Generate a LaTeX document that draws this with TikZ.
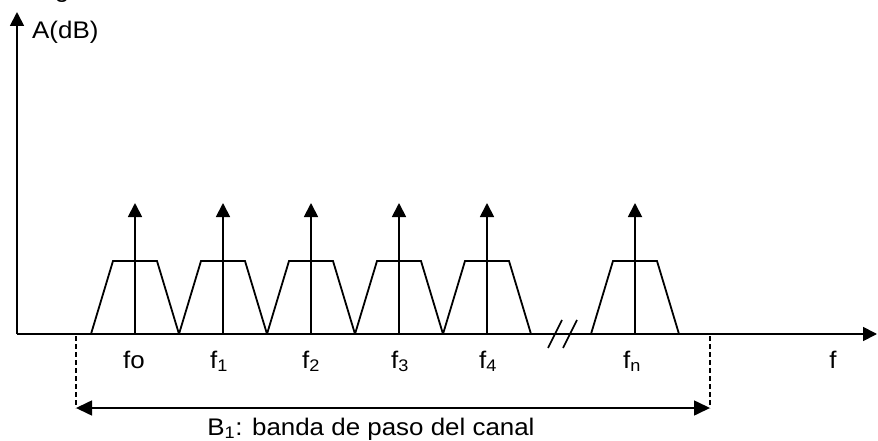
\documentclass[tikz,border=0pt]{standalone}
\usepackage{fontspec}
\setmainfont{Liberation Sans}[FakeStretch=1.08]
\usetikzlibrary{arrows.meta}
\begin{document}
\begin{tikzpicture}[x=1pt,y=-1pt,
  ln/.style={line width=1.8pt},
  tip/.style={-{Triangle[length=14pt,width=14pt]}},
  lbl/.style={font=\fontsize{24}{28}\selectfont, inner sep=0pt, anchor=base},
  dsh/.style={line width=1.2pt, dash pattern=on 5pt off 3pt}]
\useasboundingbox (0,0) rectangle (878,441);
% axes
\coordinate (O) at (17,334);
\coordinate (ytop) at (17,12);
\coordinate (xend) at (877,334);
\draw[ln,tip] (O) -- (ytop);
\draw[ln,tip] (O) -- (xend);
\node[lbl, anchor=base west] (ylab) at (32,39) {A(dB)};
\node[lbl] (xlab) at (833,368) {f};
\node[lbl] (gfrag) at (62,-2) {g};
% channels
\foreach \c/\n in {135/p0,223/p1,311/p2,399/p3,487/p4,635/pn}{
  \coordinate (\n) at (\c,334);
  \coordinate (\n t) at (\c,203);
  \draw[ln,line join=miter] (\c-44,334) -- (\c-22,261) -- (\c+22,261) -- (\c+44,334);
  \draw[ln,tip] (\n) -- (\n t);
}
\node[lbl] (l0) at (134,368) {fo};
\node[lbl] (l1) at (219,368) {f\textsubscript{1}};
\node[lbl] (l2) at (311,368) {f\textsubscript{2}};
\node[lbl] (l3) at (400,368) {f\textsubscript{3}};
\node[lbl] (l4) at (488,368) {f\textsubscript{4}};
\node[lbl] (ln) at (632,368) {f\textsubscript{n}};
% break marks
\coordinate (b1a) at (548,348); \coordinate (b1b) at (562,320);
\coordinate (b2a) at (563,348); \coordinate (b2b) at (577,320);
\draw[line width=1.6pt] (b1a) -- (b1b);
\draw[line width=1.6pt] (b2a) -- (b2b);
% bandwidth
\coordinate (dlt) at (76,336); \coordinate (dlb) at (76,408);
\coordinate (drt) at (710,336); \coordinate (drb) at (710,408);
\draw[dsh] (dlt) -- (dlb);
\draw[dsh] (drt) -- (drb);
\draw[line width=1.6pt, {Triangle[length=16pt,width=15pt]}-{Triangle[length=16pt,width=15pt]}] (dlb) -- (drb);
\node[lbl] (blab) at (371,435) {B\textsubscript{1}: banda de paso del canal};
\end{tikzpicture}
\end{document}
